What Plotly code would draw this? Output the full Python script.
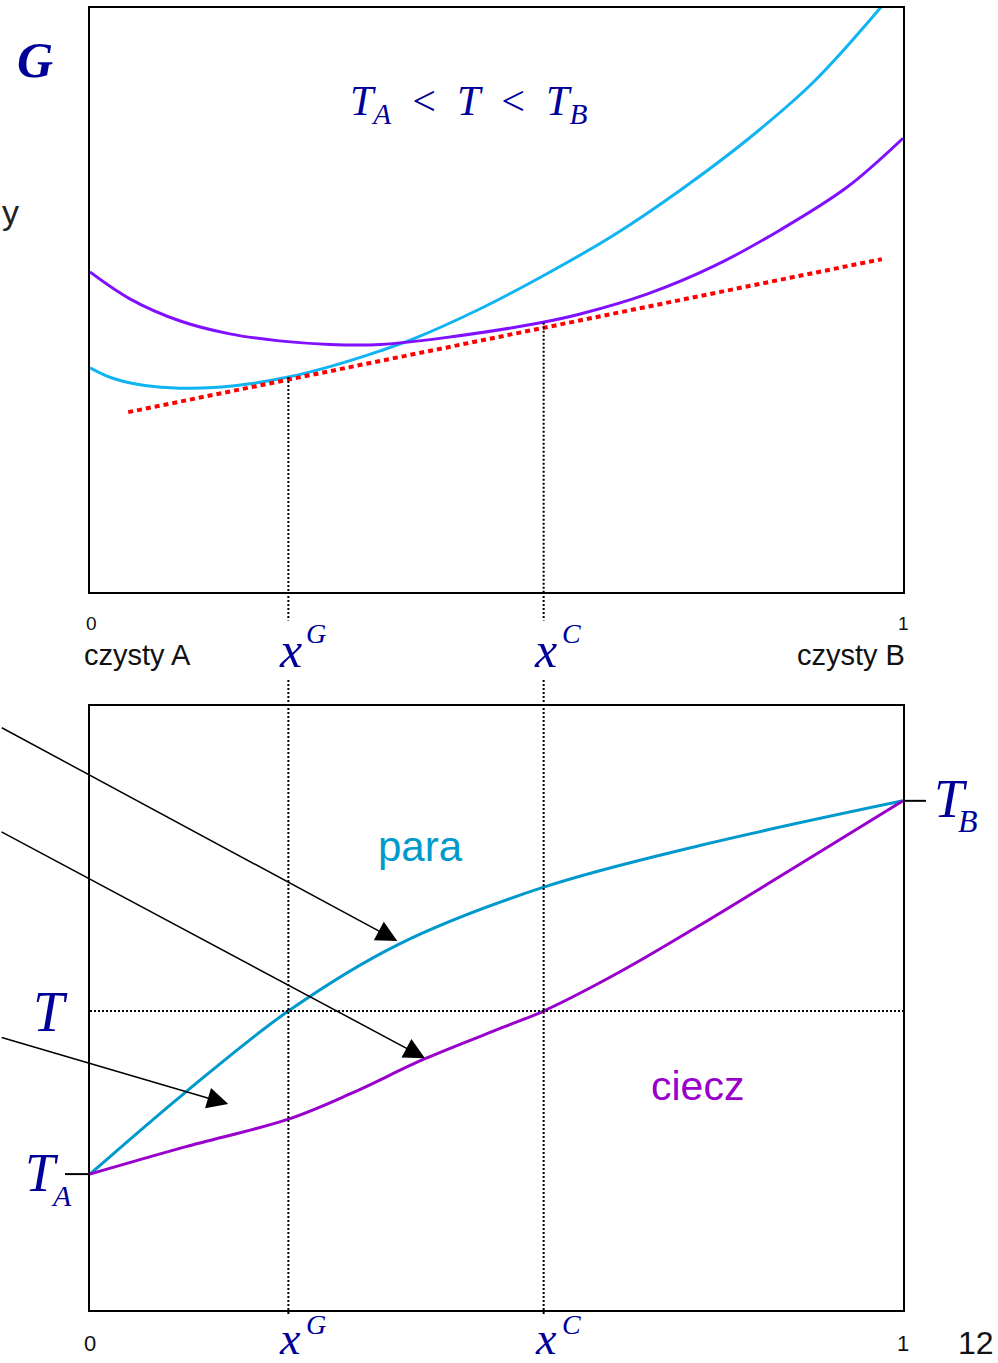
import plotly.graph_objects as go

W, H = 998, 1363

# ---- Gibbs energy vs composition at T (arbitrary units) ----
x_vap_g = [0.0, 0.028, 0.070, 0.111, 0.152, 0.194, 0.244, 0.295, 0.357, 0.397,
           0.480, 0.562, 0.643, 0.726, 0.808, 0.889, 0.972, 0.995]
g_vap = [3.84, 3.66, 3.53, 3.49, 3.50, 3.56, 3.68, 3.86, 4.13, 4.33,
         4.85, 5.45, 6.10, 6.88, 7.74, 8.72, 10.0, 10.4]

x_liq_g = [0.0, 0.049, 0.111, 0.172, 0.233, 0.295, 0.357, 0.439, 0.554,
           0.603, 0.685, 0.766, 0.849, 0.931, 1.0]
g_liq = [5.48, 5.02, 4.64, 4.42, 4.30, 4.24, 4.24, 4.36, 4.61,
         4.76, 5.10, 5.57, 6.20, 6.93, 7.77]

tangent_x = [0.047, 0.974]
tangent_g = [3.08, 5.70]

x_G = 0.244
x_C = 0.558
g_vap_at_xG = 3.68
g_liq_at_xC = 4.61

# ---- boiling diagram T vs composition ----
T_A = 22.5
T_B = 84.3
T_mid = 49.5

x_vap_t = [0.0, 0.117, 0.244, 0.379, 0.558, 0.750, 1.0]
t_vap = [22.5, 36.0, 49.5, 60.5, 70.0, 76.9, 84.3]

x_liq_t = [0.0, 0.117, 0.244, 0.322, 0.412, 0.510, 0.558,
           0.652, 0.750, 0.873, 1.0]
t_liq = [22.5, 27.0, 31.6, 35.9, 41.6, 46.9, 49.5,
         56.0, 63.7, 73.8, 84.3]

# arrow tips (x, T) and tail offsets in pixels
arrow_tips = [(0.378, 61.1), (0.412, 41.7), (0.170, 34.1)]
arrow_tails = [(-397, -214), (-425, -227), (-228, -67)]

CYAN_G, PURPLE_G = "#10B4F2", "#8010FF"
CYAN_T, PURPLE_T = "#0099CC", "#9900CC"
NAVY = "#000099"
SERIF = "Liberation Serif"
SANS = "Liberation Sans"


def px(x):
    return x / W


def py(y):
    return 1 - y / H


fig = go.Figure()

fig.add_trace(go.Scatter(x=x_vap_g, y=g_vap, mode="lines", line_shape="spline",
                         line=dict(color=CYAN_G, width=3), xaxis="x", yaxis="y"))
fig.add_trace(go.Scatter(x=x_liq_g, y=g_liq, mode="lines", line_shape="spline",
                         line=dict(color=PURPLE_G, width=3), xaxis="x", yaxis="y"))
fig.add_trace(go.Scatter(x=tangent_x, y=tangent_g, mode="lines",
                         line=dict(color="#FF0000", width=4, dash="5px,4px"),
                         xaxis="x", yaxis="y"))

fig.add_trace(go.Scatter(x=x_vap_t, y=t_vap, mode="lines", line_shape="spline",
                         line=dict(color=CYAN_T, width=3), xaxis="x2", yaxis="y2"))
fig.add_trace(go.Scatter(x=x_liq_t, y=t_liq, mode="lines", line_shape="spline",
                         line=dict(color=PURPLE_T, width=3), xaxis="x2", yaxis="y2"))

dot = dict(color="black", width=2, dash="2px,2px")
shapes = [
    dict(type="line", xref="x", yref="y", x0=x_G, x1=x_G, y0=g_vap_at_xG, y1=0, line=dot),
    dict(type="line", xref="x", yref="y", x0=x_C, x1=x_C, y0=g_liq_at_xC, y1=0, line=dot),
    dict(type="line", xref="x", yref="paper", x0=x_G, x1=x_G, y0=py(592), y1=py(1314), line=dot),
    dict(type="line", xref="x", yref="paper", x0=x_C, x1=x_C, y0=py(592), y1=py(1314), line=dot),
    dict(type="line", xref="x2", yref="y2", x0=0, x1=1, y0=T_mid, y1=T_mid, line=dot),
    dict(type="line", xref="paper", yref="y2", x0=px(65), x1=px(90), y0=T_A, y1=T_A,
         line=dict(color="black", width=2)),
    dict(type="line", xref="paper", yref="y2", x0=px(903), x1=px(926), y0=T_B, y1=T_B,
         line=dict(color="black", width=2)),
]

ann = []


def label(text, x, y, size, family=SANS, color="#111111", xref="paper", xshift=0, **kw):
    ann.append(dict(text=text, x=x, y=y, xref=xref, yref="paper", xshift=xshift,
                    showarrow=False, xanchor=kw.pop("xanchor", "center"),
                    yanchor="middle", font=dict(family=family, size=size, color=color), **kw))


# top panel texts
label("<b><i>G</i></b>", px(35), py(60), 50, SERIF, NAVY)
label("<i>T</i><sub><i>A</i></sub>&nbsp;&nbsp;&lt;&nbsp;&nbsp;<i>T</i>&nbsp;&nbsp;&lt;&nbsp;&nbsp;<i>T</i><sub><i>B</i></sub>",
      px(468), py(104), 42, SERIF, NAVY)
label("y", 0, py(212), 34, SANS, "#222222", xanchor="left")
label("0", px(91), py(623), 19)
label("1", px(903), py(623), 19)
label("czysty A", px(137), py(655), 29)
label("czysty B", px(851), py(655), 29)

# composition labels (top and bottom)
for xv, sup in ((x_G, "G"), (x_C, "C")):
    label("<i>x</i>", xv, py(650), 50, SERIF, NAVY, xref="x", xshift=2, bgcolor="white")
    label("<i>%s</i>" % sup, xv, py(633), 28, SERIF, NAVY, xref="x", xshift=28)
    label("<i>x</i>", xv, py(1338), 46, SERIF, NAVY, xref="x", xshift=2)
    label("<i>%s</i>" % sup, xv, py(1324), 28, SERIF, NAVY, xref="x", xshift=28)

# bottom panel texts
label("0", px(90), py(1343), 22)
label("1", px(903), py(1343), 22)
label("12", px(976), py(1343), 32)
label("para", px(420), py(846), 42, SANS, CYAN_T)
label("ciecz", px(697), py(1086), 41, SANS, PURPLE_T)
label("<i>T</i>", px(50), py(1012), 56, SERIF, NAVY)
label("<i>T</i>", px(42), py(1173), 54, SERIF, NAVY)
label("<i>A</i>", px(61), py(1195), 30, SERIF, NAVY)
label("<i>T</i>", px(951), py(799), 54, SERIF, NAVY)
label("<i>B</i>", px(968), py(821), 32, SERIF, NAVY)

for (tx, tt), (dx, dy) in zip(arrow_tips, arrow_tails):
    ann.append(dict(x=tx, y=tt, xref="x2", yref="y2", text="", showarrow=True,
                    ax=dx, ay=dy, axref="pixel", ayref="pixel",
                    arrowhead=2, arrowsize=2.8, arrowwidth=1.5, arrowcolor="black",
                    standoff=0))

axis_common = dict(showline=True, mirror=True, linecolor="black", linewidth=2,
                   showgrid=False, zeroline=False, showticklabels=False)

fig.update_layout(
    width=W, height=H,
    margin=dict(l=0, r=0, t=0, b=0),
    paper_bgcolor="white", plot_bgcolor="white",
    showlegend=False,
    xaxis=dict(domain=[px(90), px(903)], range=[0, 1], anchor="y",
               ticks="inside", tickvals=[0, 1], ticklen=4, tickcolor="black", **axis_common),
    yaxis=dict(domain=[py(592), py(8)], range=[0, 10], anchor="x", ticks="", **axis_common),
    xaxis2=dict(domain=[px(90), px(903)], range=[0, 1], anchor="y2",
                ticks="inside", tickvals=[0, 1], ticklen=4, tickcolor="black", **axis_common),
    yaxis2=dict(domain=[py(1310), py(706)], range=[0, 100], anchor="x2", ticks="", **axis_common),
    shapes=shapes,
    annotations=ann,
)

fig.write_html("out.html")
